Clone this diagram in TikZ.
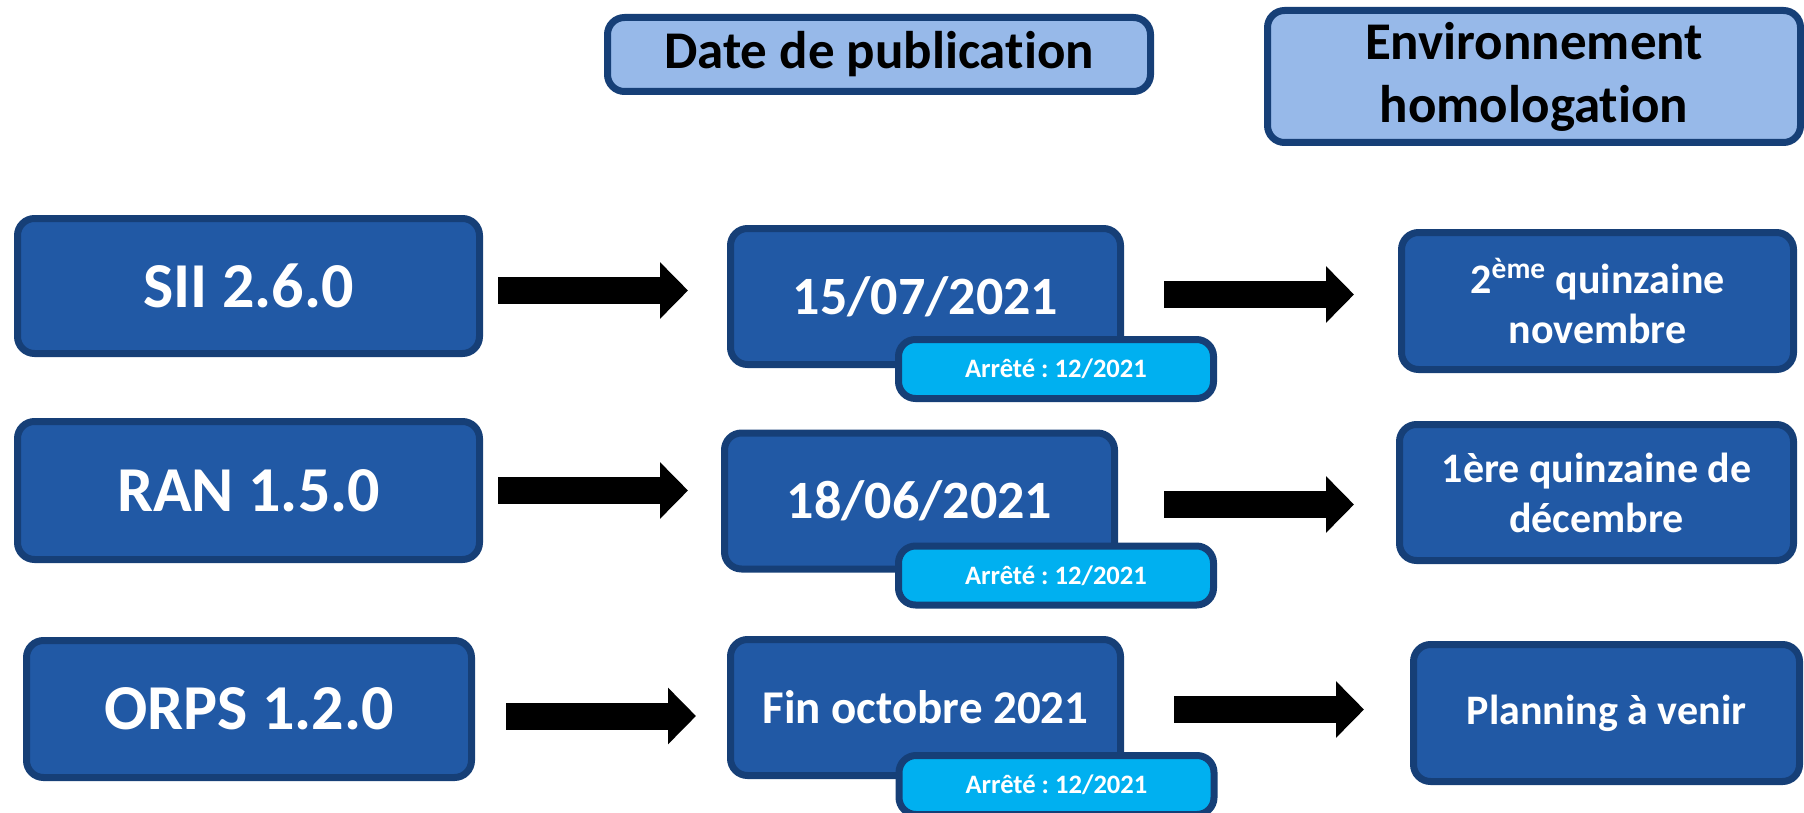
\documentclass[tikz,border=0pt]{standalone}
\usepackage{fontspec}
\setmainfont{Carlito}[Ligatures=CommonOff]
\usetikzlibrary{arrows.meta}
\frenchspacing

\definecolor{bordo}{HTML}{163F77}
\definecolor{bleu}{HTML}{2159A5}
\definecolor{bleuclair}{HTML}{97B9E9}
\definecolor{ciel}{HTML}{00B0F0}

\tikzset{
    boite/.style={draw=bordo, fill=bleu, line width=3.5pt, rounded corners=8.5pt,
        text=white, align=center, inner sep=2pt},
    entete/.style={boite, fill=bleuclair, text=black, font=\bfseries\fontsize{26.5}{31.5}\selectfont},
    version/.style={boite, font=\bfseries\fontsize{32}{38}\selectfont},
    datepub/.style={boite, minimum width=195pt, minimum height=68pt},
    homolog/.style={boite, minimum height=68.5pt, font=\bfseries\fontsize{21}{25}\selectfont},
    arrete/.style={boite, fill=ciel, minimum width=157.5pt, minimum height=29.5pt,
        font=\bfseries\fontsize{13.3}{16}\selectfont},
    fleche/.style={line width=13.5pt, -{Triangle[length=14pt, width=27.5pt]}},
}

\begin{document}
\begin{tikzpicture}[x=0.5pt, y=-0.5pt]
    \useasboundingbox (0,0) rectangle (1804,813);

    % En-tetes des colonnes
    \node[entete, minimum width=271.5pt, minimum height=37pt] (tit_date) at (879,54.5) {Date de publication};
    \node[entete, minimum width=266.5pt, minimum height=66pt] (tit_env) at (1534,76.5) {Environnement\\homologation};

    % Versions
    \node[version, minimum width=231pt, minimum height=67.5pt] (ver_sii) at (248.5,286) {SII 2.6.0};
    \node[version, minimum width=231pt, minimum height=69pt] (ver_ran) at (248.5,490.5) {RAN 1.5.0};
    \node[version, minimum width=222.5pt, minimum height=68.5pt] (ver_orps) at (249,709) {ORPS 1.2.0};

    % Dates de publication
    \node[datepub, font=\bfseries\fontsize{27}{32}\selectfont] (date_sii) at (925.5,296.5) {15/07/2021};
    \node[datepub, font=\bfseries\fontsize{27}{32}\selectfont] (date_ran) at (919.5,501) {18/06/2021};
    \node[datepub, font=\bfseries\fontsize{23.5}{28}\selectfont] (date_orps) at (925.5,707.5) {Fin octobre 2021};

    % Arretes, poses sur les dates
    \node[arrete] (arr_sii) at (1056,369) {Arrêté : 12/2021};
    \node[arrete] (arr_ran) at (1056,575.5) {Arrêté : 12/2021};
    \node[arrete] (arr_orps) at (1056.5,785) {Arrêté : 12/2021};

    % Environnement homologation
    \node[homolog, minimum width=196pt] (env_sii) at (1597.5,301) {2\textsuperscript{ème} quinzaine\\novembre};
    \node[homolog, minimum width=197pt, minimum height=68pt] (env_ran) at (1596.5,492.5) {1ère quinzaine de\\décembre};
    \node[homolog, minimum width=193pt] (env_orps) at (1606.5,713) {Planning à venir};

    % Fleches
    \draw[fleche] ([shift={(15,4.5)}]ver_sii.east) -- ([shift={(-39,-6)}]date_sii.west);
    \draw[fleche] ([shift={(40,-2)}]date_sii.east) -- ([shift={(-44,-6.5)}]env_sii.west);
    \draw[fleche] ([shift={(15,0)}]ver_ran.east) -- ([shift={(-33,-10.5)}]date_ran.west);
    \draw[fleche] ([shift={(46,3.5)}]date_ran.east) -- ([shift={(-42,12)}]env_ran.west);
    \draw[fleche] ([shift={(31,7)}]ver_orps.east) -- ([shift={(-31,8.5)}]date_orps.west);
    \draw[fleche] ([shift={(50,2)}]date_orps.east) -- ([shift={(-46,-3.5)}]env_orps.west);
\end{tikzpicture}
\end{document}
